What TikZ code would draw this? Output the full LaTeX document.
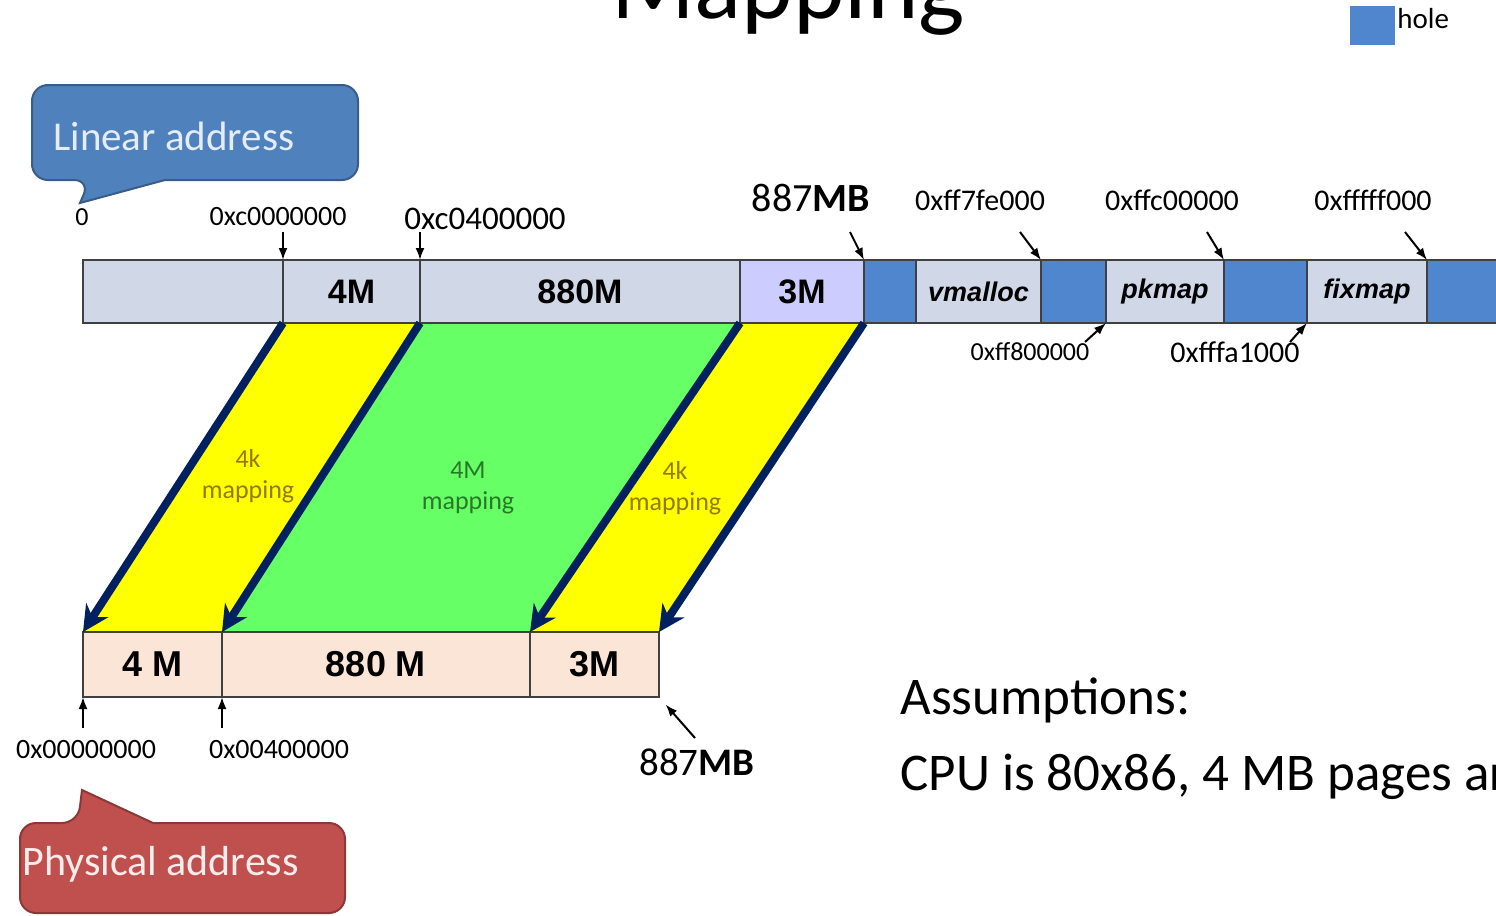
\documentclass[tikz,border=0pt]{standalone}
\usepackage{fontspec}
\setmainfont{Carlito}
\newfontfamily\arialfont{Liberation Sans}
\usetikzlibrary{arrows.meta,backgrounds}
\definecolor{segfill}{RGB}{208,216,232}
\definecolor{lavfill}{RGB}{204,204,255}
\definecolor{holefill}{RGB}{79,134,206}
\definecolor{barline}{RGB}{64,64,64}
\definecolor{peach}{RGB}{251,229,214}
\definecolor{mapyellow}{RGB}{255,255,0}
\definecolor{mapgreen}{RGB}{102,255,102}
\definecolor{navyarrow}{RGB}{0,32,96}
\definecolor{calblue}{RGB}{79,129,189}
\definecolor{calblueline}{RGB}{56,93,138}
\definecolor{calred}{RGB}{192,80,77}
\definecolor{calredline}{RGB}{140,56,54}
\definecolor{olivetext}{RGB}{150,120,0}
\definecolor{greentext}{RGB}{40,120,40}
\newcommand{\fsz}[1]{\fontsize{#1}{1.2\dimexpr#1pt\relax}\selectfont}
\begin{document}
\begin{tikzpicture}[x=0.5pt,y=-0.5pt,
  seg/.style={draw=barline,line width=1pt,fill=segfill,minimum height=31.5pt,inner sep=0pt,outer sep=0pt,anchor=west,font=\arialfont\bfseries\fsz{17}},
  hseg/.style={seg,fill=holefill},
  iseg/.style={seg,font=\arialfont\bfseries\itshape\fsz{13.5}},
  bseg/.style={draw=barline,line width=1pt,fill=peach,minimum height=32.5pt,inner sep=0pt,outer sep=0pt,anchor=west,font=\arialfont\bfseries\fsz{18}},
  addr/.style={inner sep=0pt,font=\fsz{14}},
  ptr/.style={-{Latex[length=6pt,width=4.5pt]},line width=1pt,black},
  maparrow/.style={-{Stealth[length=13pt,width=13pt]},line width=4pt,navyarrow},
  maplbl/.style={align=center,inner sep=0pt,font=\fontsize{13}{15.5}\selectfont}
]
\useasboundingbox (0,0) rectangle (1496,916);
\clip (0,0) rectangle (1496,916);

% title and legend
\node[anchor=base,inner sep=0pt,font=\fsz{49}] (title) at (788,18) {Mapping};
\node[fill=holefill,minimum width=22.5pt,minimum height=19.5pt,inner sep=0pt,anchor=north west] (lgbox) at (1350,6) {};
\node[anchor=base west,inner sep=0pt,font=\fsz{14.5}] (lgtext) at (1397,28) {hole};

% top bar (linear address)
\node[seg,minimum width=100pt] (t0) at (83,291.5) {};
\node[seg,minimum width=68.5pt] (t1) at (283,291.5) {4M};
\node[seg,minimum width=160pt] (t2) at (420,291.5) {880M};
\node[seg,fill=lavfill,minimum width=62pt] (t3) at (740,291.5) {3M};
\node[hseg,minimum width=26pt] (h1) at (864,291.5) {};
\node[iseg,minimum width=62.5pt] (t4) at (916,291.5) {vmalloc};
\node[hseg,minimum width=32.5pt] (h2) at (1041,291.5) {};
\node[iseg,minimum width=59pt] (t5) at (1106,291.5) {pkmap};
\node[hseg,minimum width=41.5pt] (h3) at (1224,291.5) {};
\node[iseg,minimum width=60pt] (t6) at (1307,291.5) {fixmap};
\node[hseg,minimum width=45pt] (h4) at (1427,291.5) {};

% bottom bar (physical address)
\node[bseg,minimum width=69.5pt] (b1) at (83,664.5) {4 M};
\node[bseg,minimum width=154pt] (b2) at (222,664.5) {880 M};
\node[bseg,minimum width=64.5pt] (b3) at (530,664.5) {3M};

% mapping bands and callouts
\begin{scope}[on background layer]
\fill[mapyellow] (t1.south west) -- (t1.south east) -- (b1.north east) -- (b1.north west) -- cycle;
\fill[mapgreen] (t2.south west) -- (t2.south east) -- (b2.north east) -- (b2.north west) -- cycle;
\fill[mapyellow] (t3.south west) -- (t3.south east) -- (b3.north east) -- (b3.north west) -- cycle;
\filldraw[fill=calblue,draw=calblueline,line width=1pt]
  (200,85) [rounded corners=8pt] -- (32,85) -- (32,180) -- (90,180) [sharp corners] -- (80,203) -- (165,180)
  [rounded corners=8pt] -- (358,180) -- (358,85) -- cycle;
\filldraw[fill=calred,draw=calredline,line width=1pt]
  (250,823) [rounded corners=8pt] -- (345,823) -- (345,913) -- (20,913) -- (20,823) -- (78,823) [sharp corners]
  -- (82,790) -- (153,823) -- cycle;
\end{scope}

\node[anchor=base west,inner sep=0pt,font=\fsz{20.5},text={rgb,255:red,228;green,236;blue,247}] (lin) at (53,150) {Linear address};
\node[anchor=base west,inner sep=0pt,font=\fsz{21},text={rgb,255:red,252;green,236;blue,236}] (phys) at (22,875) {Physical address};

% mapping arrows
\draw[maparrow] (t1.south west) -- (b1.north west);
\draw[maparrow] (t2.south west) -- (b2.north west);
\draw[maparrow] (t3.south west) -- (b3.north west);
\draw[maparrow] (t3.south east) -- (b3.north east);

\node[maplbl,text=olivetext] (m1) at (248,476) {4k\\mapping};
\node[maplbl,text=greentext] (m2) at (468,488) {4M\\mapping};
\node[maplbl,text=olivetext] (m3) at (675,488) {4k\\mapping};

% address labels, top
\node[addr,font=\fsz{13}] (a0) at (82,217) {0};
\node[addr] (a1) at (278,217) {0xc0000000};
\node[addr,font=\fsz{16.5}] (a2) at (485,219) {0xc0400000};
\node[addr,font=\fsz{20}] (a3) at (811,198) {887\textbf{MB}};
\node[addr,font=\fsz{15}] (a4) at (980,200) {0xff7fe000};
\node[addr,font=\fsz{15}] (a5) at (1172,200) {0xffc00000};
\node[addr,font=\fsz{15}] (a6) at (1373,200) {0xfffff000};
\node[addr,font=\fsz{13}] (a7) at (1030,352) {0xff800000};
\node[addr,font=\fsz{15}] (a8) at (1235,352) {0xfffa1000};
% address labels, bottom
\node[addr] (p0) at (86,750) {0x00000000};
\node[addr] (p1) at (279,750) {0x00400000};
\node[addr,font=\fsz{19.5}] (p2) at (697,762) {887\textbf{MB}};

% pointers
\coordinate (c1) at (283,232);
\coordinate (c2) at (420,232);
\coordinate (c3) at (850,232);
\coordinate (c4) at (1020,232);
\coordinate (c5) at (1207,232);
\coordinate (c6) at (1405,232);
\coordinate (c7) at (1085,342);
\coordinate (c8) at (1290,342);
\coordinate (c9) at (83,728);
\coordinate (c10) at (222,728);
\coordinate (c11) at (695,738);
\draw[ptr] (c1) -- (t1.north west);
\draw[ptr] (c2) -- (t2.north west);
\draw[ptr] (c3) -- (t3.north east);
\draw[ptr] (c4) -- (t4.north east);
\draw[ptr] (c5) -- (t5.north east);
\draw[ptr] (c6) -- (t6.north east);
\draw[ptr] (c7) -- (h2.south east);
\draw[ptr] (c8) -- (h3.south east);
\draw[ptr] (c9) -- (b1.south west);
\draw[ptr] (c10) -- (b2.south west);
\draw[ptr,shorten >=5pt] (c11) -- (b3.south east);

% assumptions
\node[anchor=base west,inner sep=0pt,font=\fsz{26.5}] (as1) at (900,714) {Assumptions:};
\node[anchor=base west,inner sep=0pt,font=\fsz{26.5}] (as2) at (900,790) {CPU is 80x86, 4 MB pages are};
\end{tikzpicture}
\end{document}
